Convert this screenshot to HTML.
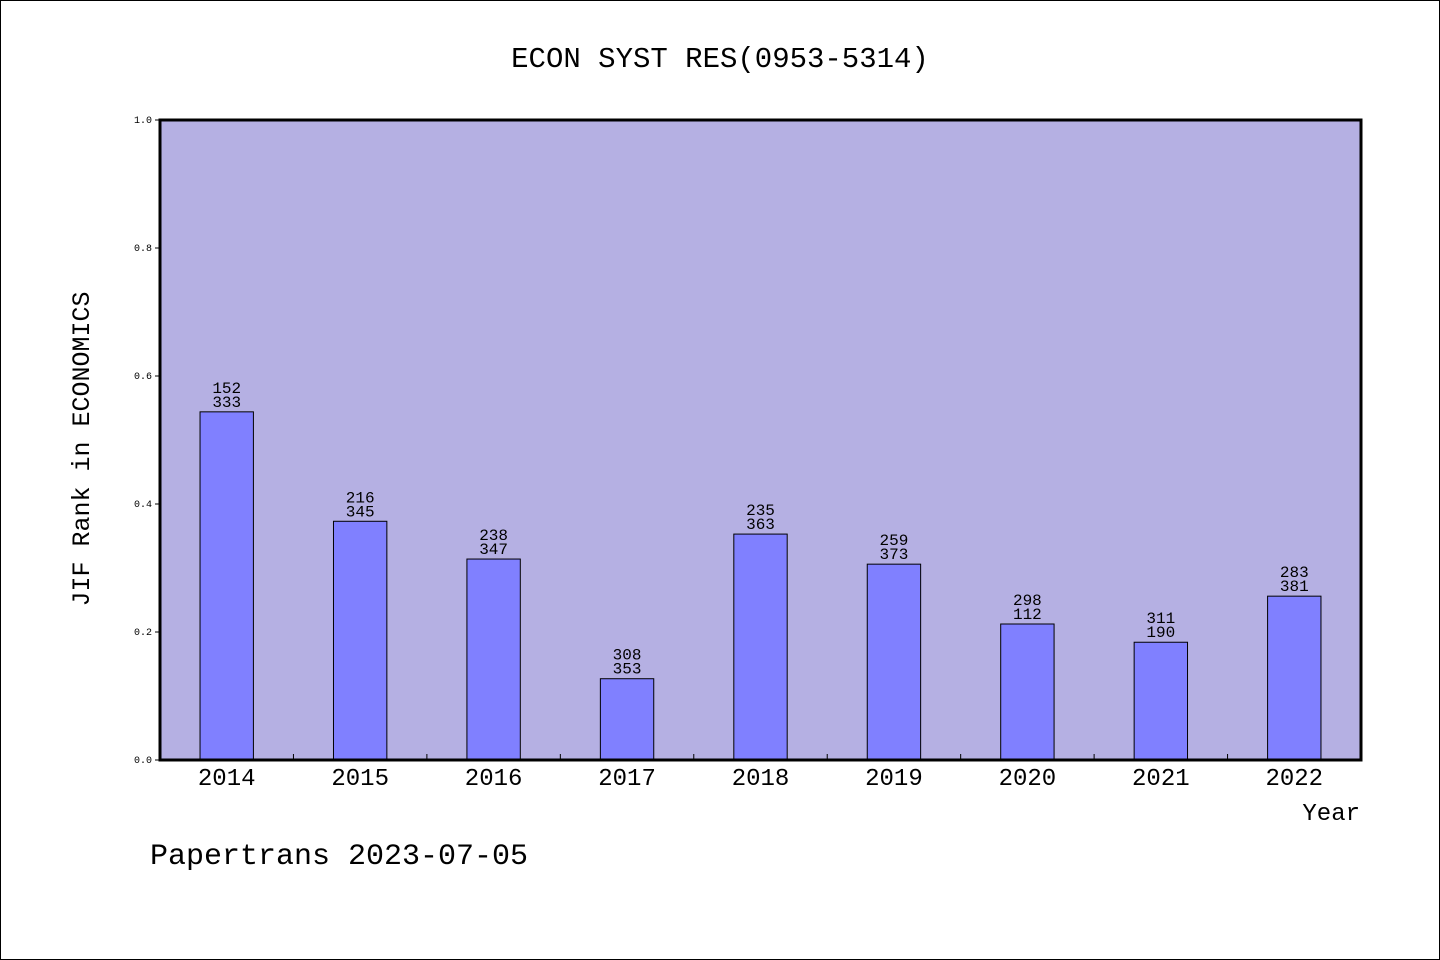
<!DOCTYPE html>
<html><head><meta charset="utf-8"><style>
html,body{margin:0;padding:0;background:#fff}
svg{display:block}
text{font-family:"Liberation Mono","Noto Sans CJK SC",monospace;fill:#000}
</style></head><body>
<svg id="chart" width="1440" height="960" xmlns="http://www.w3.org/2000/svg">
<rect x="0.5" y="0.5" width="1439" height="959" fill="#fff" stroke="#000" stroke-width="1"/>
<text x="720" y="67" font-size="29" text-anchor="middle">ECON SYST RES(0953-5314)</text>
<rect x="160" y="120" width="1201" height="640" fill="#b5b0e3"/>
<g id="yticks"></g>
<g id="bars"></g>
<g id="xticks"></g>
<rect x="160" y="120" width="1201" height="640" fill="none" stroke="#000" stroke-width="3"/>
<text transform="translate(89,449) rotate(-90)" font-size="25" text-anchor="middle">JIF Rank in ECONOMICS</text>
<text x="1360" y="820" font-size="24" text-anchor="end">Year</text>
<text x="150" y="864" font-size="30">Papertrans 2023-07-05</text>
</svg>
<script>
const years = ["2014","2015","2016","2017","2018","2019","2020","2021","2022"];
const values = [0.544,0.373,0.314,0.127,0.353,0.306,0.2125,0.184,0.256];
const ranks = ["152","216","238","308","235","259","298","311","283"];
const totals = ["333","345","347","353","363","373","112","190","381"];
const yTickLabels = ["0.0","0.2","0.4","0.6","0.8","1.0"];
const yTickValues = [0,0.2,0.4,0.6,0.8,1.0];

const NS="http://www.w3.org/2000/svg";
const X0=160,X1=1361,Y0=760,Y1=120;
const band=(X1-X0)/years.length;
const xC=i=>X0+(i+0.5)*band;
const yS=v=>Y0-(Y0-Y1)*v;
function mk(tag,attrs,parent){const e=document.createElementNS(NS,tag);for(const k in attrs)e.setAttribute(k,attrs[k]);parent.appendChild(e);return e;}
const gy=document.getElementById('yticks'),gb=document.getElementById('bars'),gx=document.getElementById('xticks');
yTickValues.forEach((v,i)=>{
  const l=mk('line',{x1:155,x2:160,y1:yS(v),y2:yS(v),stroke:'#000','stroke-width':1},gy);
  
  
  const t=mk('text',{x:152,y:yS(v)+3,'font-size':10,'text-anchor':'end'},gy);
  
  
  t.textContent=yTickLabels[i];
});
years.forEach((yr,i)=>{
  const w=band*0.4,top=yS(values[i]);
  const r=mk('rect',{x:xC(i)-w/2,y:top,width:w,height:Y0-top,fill:'#8080ff',stroke:'#000','stroke-width':1},gb);
  
  
  const t1=mk('text',{x:xC(i),y:top-19,'font-size':16,'text-anchor':'middle'},gb);
  
  
  t1.textContent=ranks[i];
  const t2=mk('text',{x:xC(i),y:top-5,'font-size':16,'text-anchor':'middle'},gb);
  
  
  t2.textContent=totals[i];
  const xl=mk('text',{x:xC(i),y:785,'font-size':24,'text-anchor':'middle'},gx);
  
  
  xl.textContent=yr;
  if(i>0){
    const tk=mk('line',{x1:X0+i*band,x2:X0+i*band,y1:754,y2:760,stroke:'#000','stroke-width':1},gx);
    
    
  }
});
</script>
</body></html>
